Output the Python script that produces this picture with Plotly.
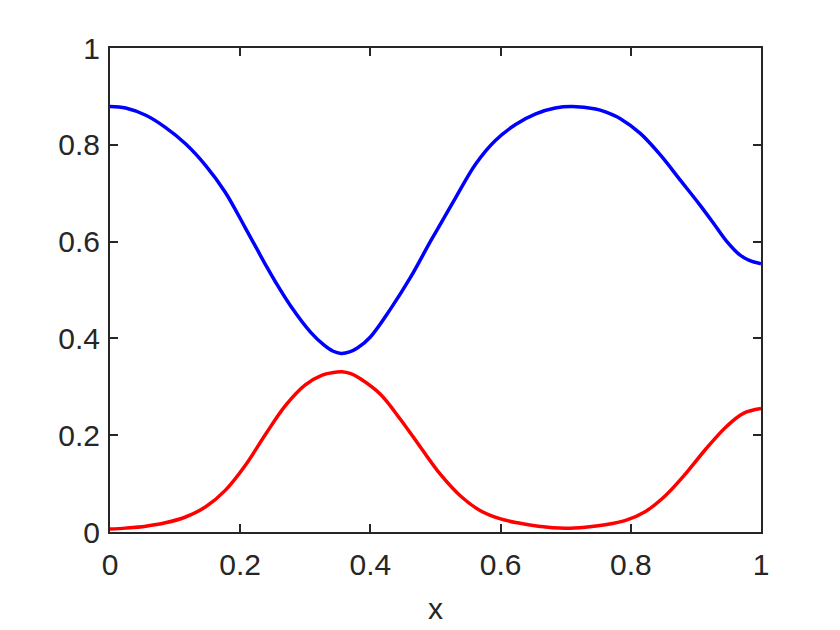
import plotly.graph_objects as go

# blue curve samples
x_blue = [0.0, 0.024, 0.055, 0.085, 0.116, 0.147, 0.177, 0.208, 0.239, 0.254,
          0.277, 0.308, 0.328, 0.342, 0.355, 0.368, 0.380, 0.400, 0.431, 0.462,
          0.492, 0.508, 0.531, 0.562, 0.592, 0.623, 0.654, 0.684, 0.710, 0.746,
          0.761, 0.784, 0.815, 0.846, 0.876, 0.906, 0.927, 0.947, 0.967, 0.982, 1.0]
y_blue = [0.879, 0.876, 0.861, 0.836, 0.802, 0.757, 0.702, 0.628, 0.552, 0.517,
          0.468, 0.413, 0.387, 0.374, 0.369, 0.372, 0.380, 0.403, 0.461, 0.527,
          0.600, 0.637, 0.691, 0.761, 0.809, 0.842, 0.864, 0.876, 0.879, 0.874,
          0.868, 0.854, 0.823, 0.778, 0.727, 0.676, 0.638, 0.601, 0.573, 0.561, 0.554]

# red curve samples
x_red = [0.0, 0.024, 0.055, 0.085, 0.116, 0.147, 0.177, 0.208, 0.239, 0.270,
         0.300, 0.326, 0.341, 0.356, 0.370, 0.384, 0.415, 0.446, 0.477, 0.507,
         0.538, 0.569, 0.600, 0.630, 0.658, 0.699, 0.730, 0.761, 0.792, 0.822,
         0.853, 0.884, 0.915, 0.947, 0.973, 1.0]
y_red = [0.006, 0.008, 0.012, 0.019, 0.031, 0.052, 0.086, 0.138, 0.202, 0.262,
         0.304, 0.324, 0.329, 0.331, 0.327, 0.317, 0.285, 0.233, 0.175, 0.120,
         0.075, 0.044, 0.027, 0.018, 0.012, 0.008, 0.010, 0.015, 0.024, 0.042,
         0.075, 0.120, 0.171, 0.218, 0.245, 0.255]

x_ticks = [0, 0.2, 0.4, 0.6, 0.8, 1]
x_tick_labels = ["0", "0.2", "0.4", "0.6", "0.8", "1"]
y_ticks = [0, 0.2, 0.4, 0.6, 0.8, 1]
y_tick_labels = ["0", "0.2", "0.4", "0.6", "0.8", "1"]

FONT = "Liberation Sans, Arial, Helvetica, sans-serif"
DARK = "#262626"

fig = go.Figure()
fig.add_trace(go.Scatter(x=x_blue, y=y_blue, mode="lines",
                         line=dict(color="#0000ff", width=3.5, shape="spline", smoothing=1.0),
                         showlegend=False))
fig.add_trace(go.Scatter(x=x_red, y=y_red, mode="lines",
                         line=dict(color="#ff0000", width=3.5, shape="spline", smoothing=1.0),
                         showlegend=False))

axis_common = dict(showline=True, linecolor=DARK, linewidth=2, mirror="ticks",
                   ticks="inside", ticklen=8, tickwidth=2, tickcolor=DARK,
                   showgrid=False, zeroline=False,
                   tickfont=dict(family=FONT, size=30, color=DARK))

fig.update_layout(
    width=840, height=630,
    margin=dict(l=102, r=87, t=40, b=106),
    paper_bgcolor="white", plot_bgcolor="white",
    xaxis=dict(range=[0, 1], tickvals=x_ticks, ticktext=x_tick_labels,
               ticklabelstandoff=5,
               title=dict(text="x", font=dict(family=FONT, size=30, color=DARK),
                          standoff=18),
               **axis_common),
    yaxis=dict(range=[0, 1], tickvals=y_ticks, ticktext=y_tick_labels,
               ticklabelstandoff=2, **axis_common),
)

fig.write_html("out.html")
